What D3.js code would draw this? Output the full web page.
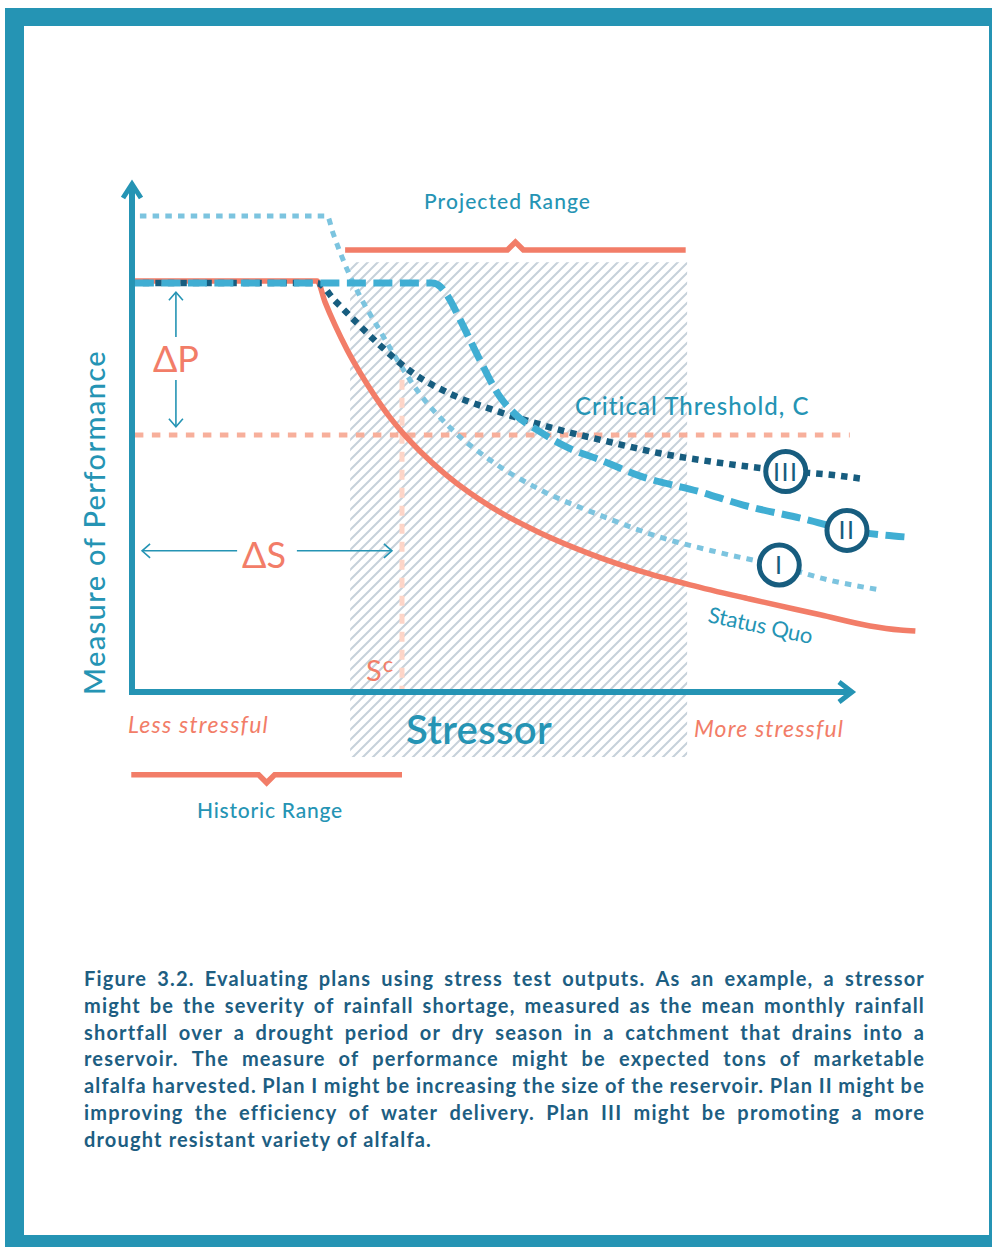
<!DOCTYPE html>
<html><head><meta charset="utf-8">
<script src="https://cdn.jsdelivr.net/npm/d3@7"></script>
<style>body{margin:0;background:#fff}svg{display:block}</style>
</head><body>
<svg id="c" width="992" height="1247"></svg>
<script>
// ---------- DATA (stressor units 0..10, performance units 0..10) ----------
const statusQuo = [[-0.03,8.09],[2.57,8.09],[2.68,7.68],[2.82,7.22],[2.99,6.73],[3.17,6.28],[3.38,5.81],[3.58,5.41],[3.76,5.10],[4.00,4.74],[4.35,4.29],[4.69,3.92],[5.11,3.54],[5.67,3.13],[6.36,2.72],[7.06,2.38],[7.75,2.11],[8.58,1.83],[9.56,1.52],[10.25,1.30],[10.67,1.22],[10.88,1.20]];
const plan1 = [[0.11,9.37],[2.71,9.37],[2.79,9.04],[2.99,8.31],[3.17,7.78],[3.42,7.17],[3.67,6.57],[3.96,5.94],[4.42,5.20],[4.97,4.57],[5.67,3.98],[6.50,3.48],[7.33,3.05],[8.17,2.74],[8.99,2.48],[9.69,2.20],[10.39,2.01]];
const plan2 = [[0.04,8.05],[4.17,8.05],[4.29,7.97],[4.40,7.76],[4.56,7.32],[4.83,6.54],[5.11,5.81],[5.32,5.47],[5.67,5.12],[6.04,4.82],[6.50,4.57],[7.06,4.25],[7.89,3.94],[8.49,3.68],[9.38,3.39],[9.93,3.19],[10.76,3.05]];
const plan3 = [[0.15,8.05],[2.57,8.05],[2.82,7.70],[3.10,7.30],[3.44,6.83],[3.90,6.28],[4.42,5.87],[5.11,5.51],[5.94,5.16],[6.64,4.92],[7.33,4.70],[8.07,4.53],[8.72,4.41],[9.10,4.35],[9.74,4.27],[10.18,4.19]];
const planMarkers = [{label:"III", s:9.08, p:4.34},{label:"II", s:9.93, p:3.18},{label:"I", s:8.99, p:2.50}];
const thresholdC = 5.06;          // critical threshold (performance)
const thresholdSpan = [0.04, 9.97];
const stressorSc = 3.75;          // stressor level where status quo crosses C
const historicRange = [-0.01, 3.75];
const projectedRange = [3.03, 7.71];
const projectedBraceRange = [2.96, 7.69];
const deltaP = [7.87, 5.22];      // performance span of the ΔP arrow
const deltaS = [0.14, 3.61];      // stressor span of the ΔS arrow

const captionLines = [
 "Figure 3.2. Evaluating plans using stress test outputs. As an example, a stressor",
 "might be the severity of rainfall shortage, measured as the mean monthly rainfall",
 "shortfall over a drought period or dry season in a catchment that drains into a",
 "reservoir. The measure of performance might be expected tons of marketable",
 "alfalfa harvested. Plan I might be increasing the size of the reservoir. Plan II might be",
 "improving the efficiency of water delivery. Plan III might be promoting a more",
 "drought resistant variety of alfalfa."
];

// ---------- STYLE ----------
const teal="#2594b4", coral="#f27d68", thrCol="#f7af9b", scCol="#fdd5c8",
      p1Col="#7cc4df", p2Col="#40aed3", p3Col="#175d7f", capCol="#1d5e82", hatchCol="#c6d1da";
const FONT="Lato, 'Open Sans', sans-serif";

const svg=d3.select("#c");
const x=d3.scaleLinear().domain([0,10]).range([132,852]);
const y=d3.scaleLinear().domain([0,10]).range([692,184]);
const line=d3.line().x(d=>x(d[0])).y(d=>y(d[1])).curve(d3.curveMonotoneX);

function fit(sel, target){
  const n=sel.text().length;
  const w=sel.node().getComputedTextLength();
  sel.style("letter-spacing", ((target-w)/n)+"px");
  return sel;
}
function txt(g, s, xx, yy, size, color, opts={}){
  const t=g.append("text").attr("x",xx).attr("y",yy).attr("font-family",FONT)
    .attr("font-size",size).attr("fill",color)
    .attr("font-weight",opts.weight||400).attr("font-style",opts.style||"normal")
    .attr("text-anchor",opts.anchor||"start").text(s);
  if(opts.width) fit(t, opts.width);
  return t;
}

// frame
svg.append("rect").attr("x",5).attr("y",8).attr("width",987).attr("height",1239).attr("fill",teal);
svg.append("rect").attr("x",24).attr("y",26).attr("width",965).attr("height",1209).attr("fill","#fff");

// hatch
const pat=svg.append("defs").append("pattern").attr("id","hatch")
  .attr("patternUnits","userSpaceOnUse").attr("width",10).attr("height",10);
pat.append("path").attr("d","M-1,1 l2,-2 M0,10 l10,-10 M9,11 l2,-2")
  .attr("stroke",hatchCol).attr("stroke-width",2);
svg.append("rect").attr("x",x(projectedRange[0])).attr("y",y(8.46))
  .attr("width",x(projectedRange[1])-x(projectedRange[0])).attr("height",y(-1.28)-y(8.46))
  .attr("fill","url(#hatch)");

// braces
function brace(r, yv, dir){
  const x0=x(r[0]), x1=x(r[1]), xc=(x0+x1)/2, yb=y(yv);
  return `M${x0},${yb}L${xc-8},${yb}L${xc},${yb+dir*8}L${xc+8},${yb}L${x1},${yb}`;
}
svg.append("path").attr("d",brace(projectedBraceRange,8.70,-1)).attr("fill","none")
  .attr("stroke",coral).attr("stroke-width",5.5);
svg.append("path").attr("d",brace(historicRange,-1.63,1)).attr("fill","none")
  .attr("stroke",coral).attr("stroke-width",5.5);

// threshold + Sc
svg.append("line").attr("x1",x(thresholdSpan[0])).attr("x2",x(thresholdSpan[1]))
  .attr("y1",y(thresholdC)).attr("y2",y(thresholdC))
  .attr("stroke",thrCol).attr("stroke-width",5).attr("stroke-dasharray","8.5,8.5");
svg.append("line").attr("x1",x(stressorSc)).attr("x2",x(stressorSc))
  .attr("y1",y(6.50)).attr("y2",y(0))
  .attr("stroke",scCol).attr("stroke-width",5).attr("stroke-dasharray","10,8");

// curves
svg.append("path").attr("d",line(statusQuo)).attr("fill","none").attr("stroke",coral).attr("stroke-width",5.5);
svg.append("path").attr("d",line(plan1)).attr("fill","none").attr("stroke",p1Col).attr("stroke-width",5).attr("stroke-dasharray","6.5,6.2");
svg.append("path").attr("d",line(plan3)).attr("fill","none").attr("stroke",p3Col).attr("stroke-width",6.5).attr("stroke-dasharray","6.5,6");
svg.append("path").attr("d",line(plan2)).attr("fill","none").attr("stroke",p2Col).attr("stroke-width",7).attr("stroke-dasharray","19,7.5");

// axes
svg.append("line").attr("x1",x(0)).attr("x2",x(0)).attr("y1",y(0)+3).attr("y2",y(10))
  .attr("stroke",teal).attr("stroke-width",6);
svg.append("line").attr("x1",x(0)-3).attr("x2",x(10)).attr("y1",y(0)).attr("y2",y(0))
  .attr("stroke",teal).attr("stroke-width",6);
svg.append("path").attr("d",`M${x(0)-9},${y(10)+14}L${x(0)},${y(10)}L${x(0)+9},${y(10)+14}`)
  .attr("fill","none").attr("stroke",teal).attr("stroke-width",5);
svg.append("path").attr("d",`M${x(10)-13},${y(0)-10}L${x(10)},${y(0)}L${x(10)-13},${y(0)+10}`)
  .attr("fill","none").attr("stroke",teal).attr("stroke-width",5);

// markers
const mk=svg.append("g").selectAll("g").data(planMarkers).join("g")
  .attr("transform",d=>`translate(${x(d.s)},${y(d.p)})`);
mk.append("circle").attr("r",20).attr("fill","#fff").attr("stroke",p3Col).attr("stroke-width",5);
mk.append("text").attr("text-anchor","middle").attr("y",9).attr("font-family",FONT)
  .attr("font-size",25).attr("fill",p3Col).style("letter-spacing","1.5px").text(d=>d.label);

// ΔP / ΔS arrows
const ar=svg.append("g").attr("stroke",teal).attr("stroke-width",1.6).attr("fill","none");
const xp=x(0.61);
ar.append("line").attr("x1",xp).attr("x2",xp).attr("y1",y(deltaP[0])).attr("y2",y(6.99));
ar.append("line").attr("x1",xp).attr("x2",xp).attr("y1",y(6.14)).attr("y2",y(deltaP[1]));
ar.append("path").attr("d",`M${xp-7},${y(deltaP[0])+8}L${xp},${y(deltaP[0])}L${xp+7},${y(deltaP[0])+8}`);
ar.append("path").attr("d",`M${xp-7},${y(deltaP[1])-8}L${xp},${y(deltaP[1])}L${xp+7},${y(deltaP[1])-8}`);
const ys=y(2.78);
ar.append("line").attr("y1",ys).attr("y2",ys).attr("x1",x(deltaS[0])).attr("x2",x(1.46));
ar.append("line").attr("y1",ys).attr("y2",ys).attr("x1",x(2.29)).attr("x2",x(deltaS[1]));
ar.append("path").attr("d",`M${x(deltaS[0])+8},${ys-7}L${x(deltaS[0])},${ys}L${x(deltaS[0])+8},${ys+7}`);
ar.append("path").attr("d",`M${x(deltaS[1])-8},${ys-7}L${x(deltaS[1])},${ys}L${x(deltaS[1])-8},${ys+7}`);

// labels
const L=svg.append("g");
txt(L,"ΔP",xp,372,36,coral,{anchor:"middle"});
txt(L,"ΔS",264,568,36,coral,{anchor:"middle"});
const sc=txt(L,"S",366,681,29,coral);
sc.append("tspan").attr("dy",-9).attr("dx",1).attr("font-size",22).text("c");
txt(L,"Projected Range",424,209,21,teal,{weight:500,width:167});
txt(L,"Historic Range",197,818,21,teal,{weight:500,width:146});
txt(L,"Critical Threshold, C",575,415,24,teal,{weight:500,width:235});
txt(L,"Stressor",406,744,40,teal,{weight:600,width:146});
txt(L,"Less stressful",128,733,23,coral,{style:"italic",width:141});
txt(L,"More stressful",694,737,23,coral,{style:"italic",width:150});
const mp=L.append("text").attr("transform","translate(105,695) rotate(-90)")
  .attr("font-family",FONT).attr("font-size",29).attr("font-weight",500).attr("fill",teal)
  .text("Measure of Performance");
fit(mp,345);
const sq=L.append("text").attr("transform","translate(707,622) rotate(12)")
  .attr("font-family",FONT).attr("font-size",22).attr("fill",teal).text("Status Quo");
fit(sq,106);

// caption (justified)
const C=svg.append("g").attr("font-family",FONT).attr("font-size",20).attr("font-weight",700).attr("fill",capCol);
const capL=84, capR=925, capY=986, capLH=26.8;
const probe=C.append("text").text(captionLines[captionLines.length-1]);
const ls=(348-probe.node().getComputedTextLength())/captionLines[captionLines.length-1].length;
probe.remove();
captionLines.forEach((ln,i)=>{
  const t=C.append("text").attr("y",capY+i*capLH).style("letter-spacing",ls+"px");
  if(i===captionLines.length-1){ t.attr("x",capL).text(ln); return; }
  const words=ln.split(" ");
  const widths=words.map(w=>{const p=C.append("text").style("letter-spacing",ls+"px").text(w);
    const v=p.node().getComputedTextLength(); p.remove(); return v;});
  const sum=d3.sum(widths);
  const gap=(capR-capL-sum)/(words.length-1);
  let cx=capL;
  words.forEach((w,j)=>{ t.append("tspan").attr("x",cx).text(w); cx+=widths[j]+gap; });
});
</script>
</body></html>
